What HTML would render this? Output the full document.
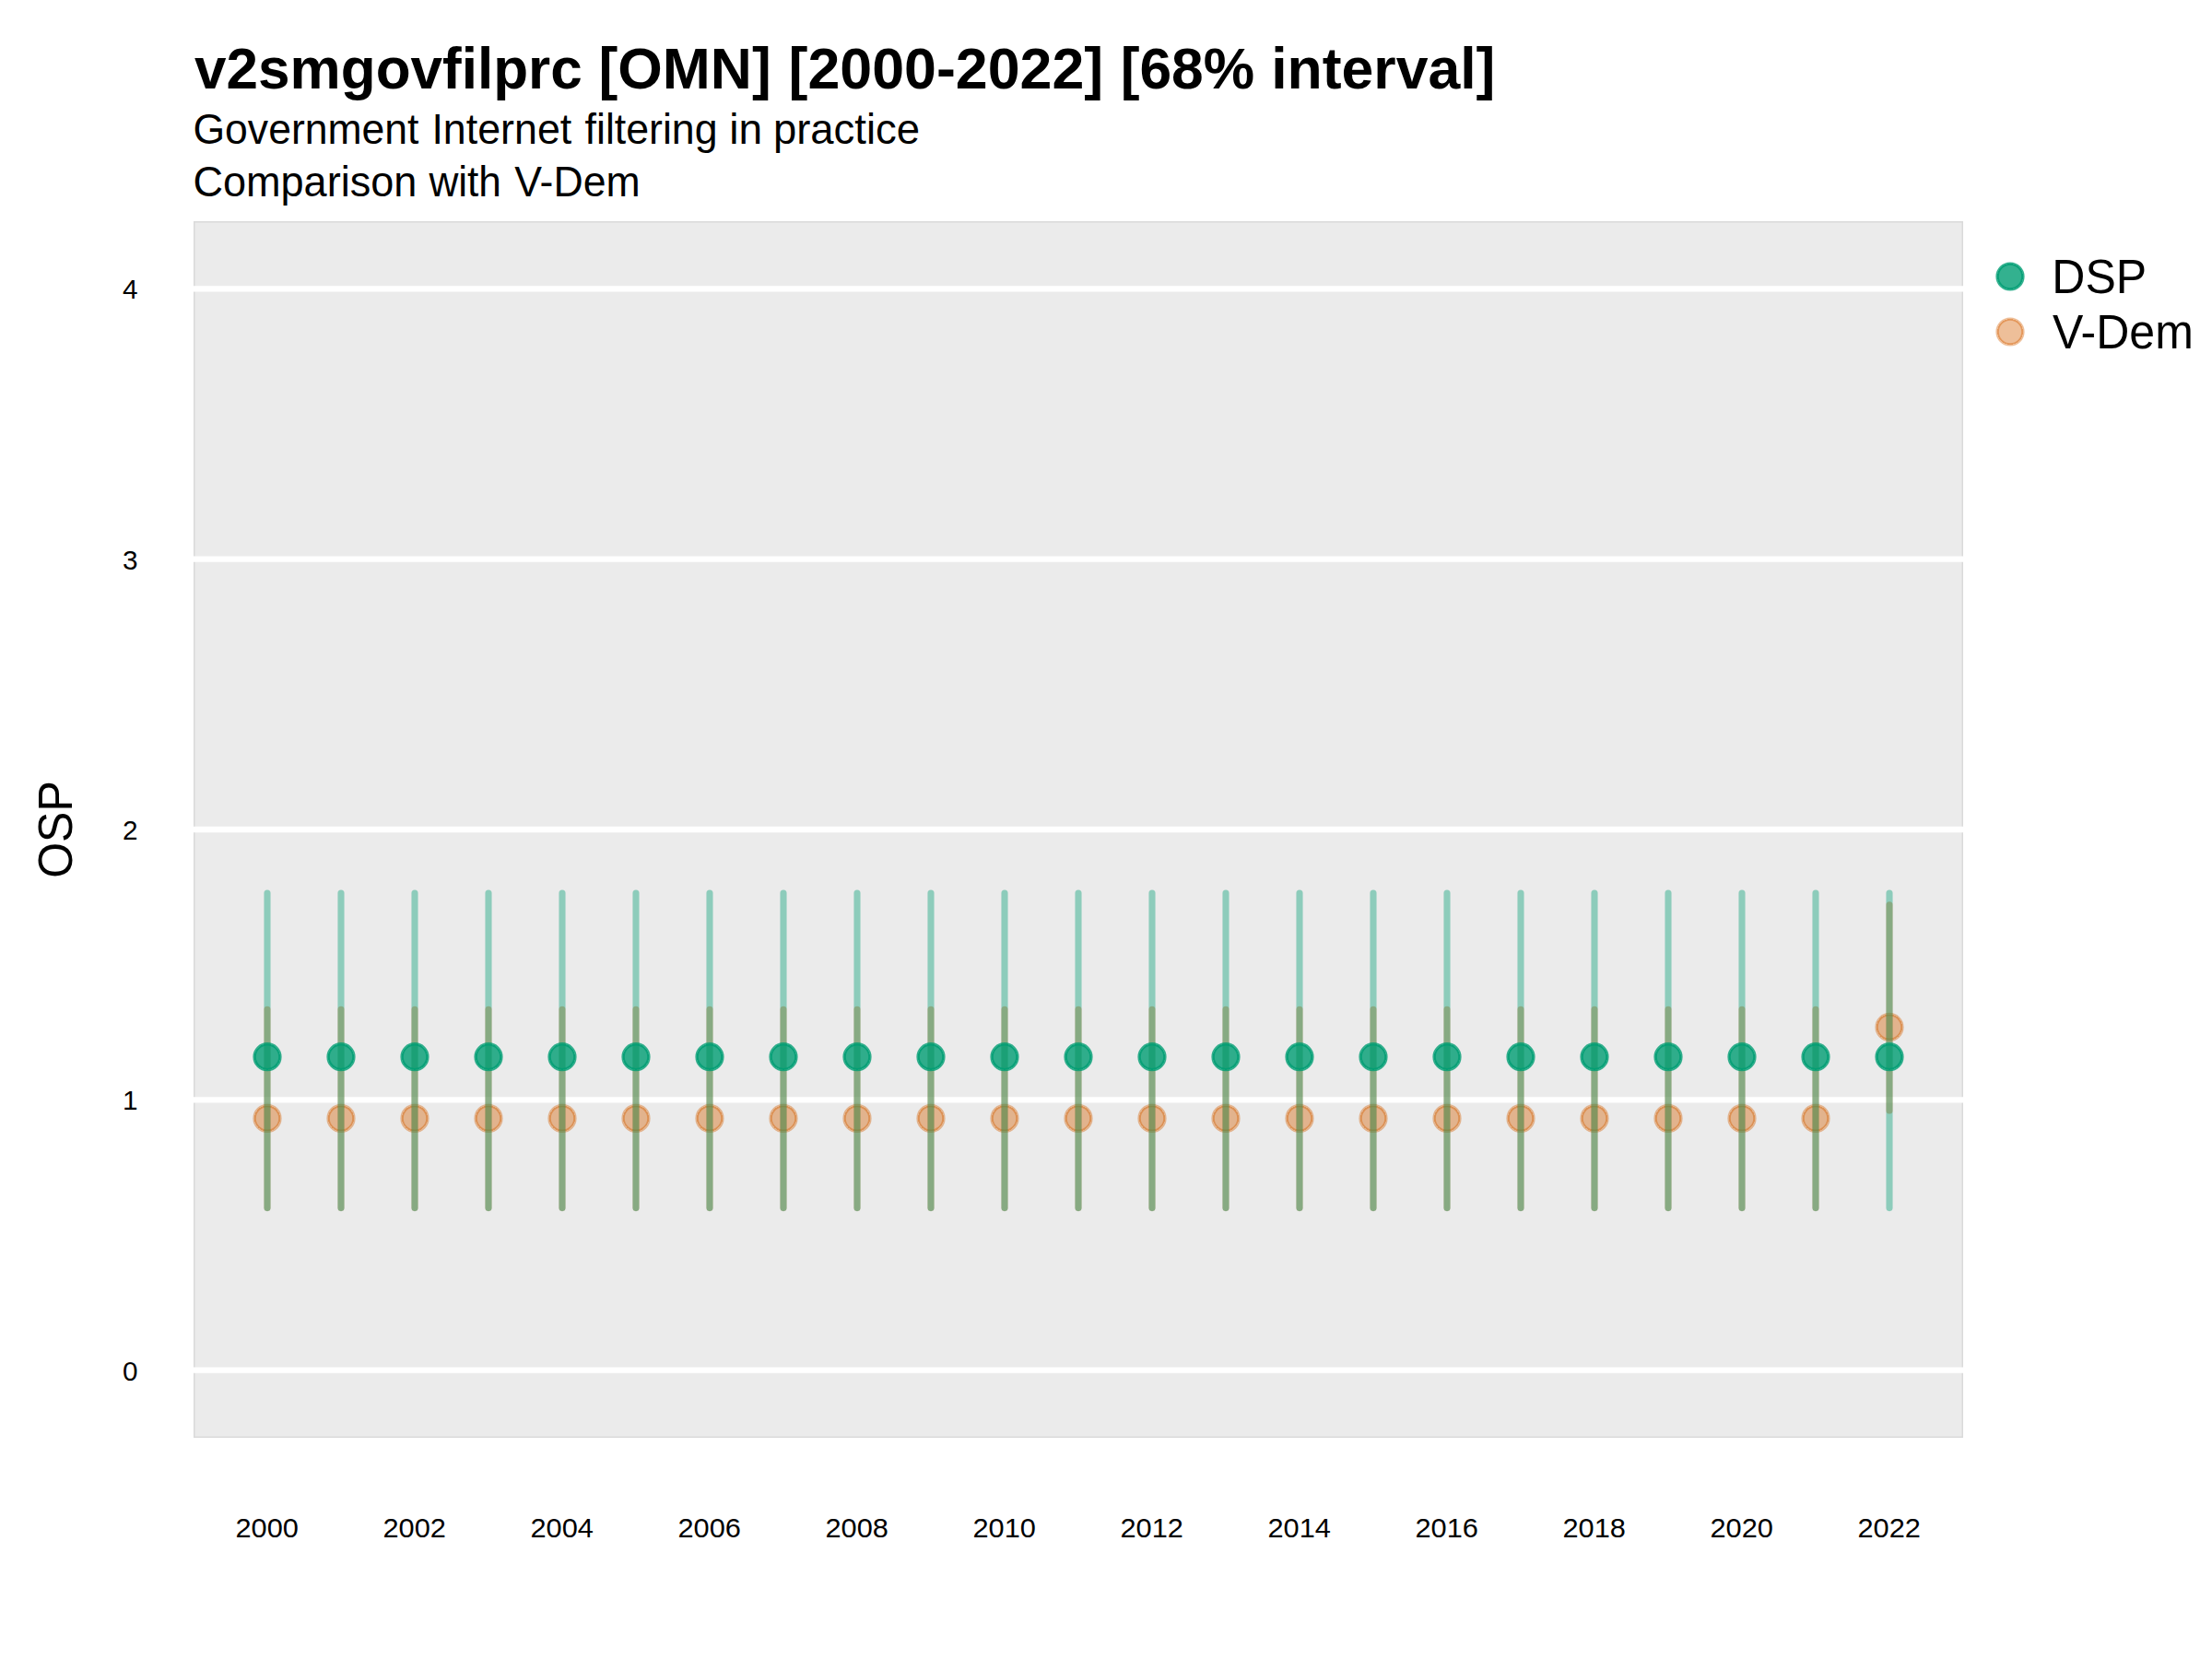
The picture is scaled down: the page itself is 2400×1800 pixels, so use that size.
<!DOCTYPE html>
<html lang="en"><head><meta charset="utf-8"><title>v2smgovfilprc [OMN] [2000-2022] [68% interval]</title>
<style>html,body{margin:0;padding:0;background:#fff;}body{width:2400px;height:1800px;overflow:hidden;}svg{display:block;}text{font-family:"Liberation Sans",Arial,Helvetica,sans-serif;fill:#000;}</style>
</head><body>
<svg width="2400" height="1800" viewBox="0 0 2400 1800">
<rect x="0" y="0" width="2400" height="1800" fill="#ffffff"/>
<text transform="translate(0,96.0) scale(1,1.015)" y="0" font-size="62.5" font-weight="bold"><tspan x="211.02" textLength="420.76" lengthAdjust="spacingAndGlyphs">v2smgovfilprc</tspan> <tspan x="649.43" textLength="187.27" lengthAdjust="spacingAndGlyphs">[OMN]</tspan> <tspan x="855.52" textLength="341.66" lengthAdjust="spacingAndGlyphs">[2000-2022]</tspan> <tspan x="1215.74" textLength="145.4" lengthAdjust="spacingAndGlyphs">[68%</tspan> <tspan x="1379.2" textLength="243.25" lengthAdjust="spacingAndGlyphs">interval]</tspan></text>
<text transform="translate(0,155.7) scale(1,1.0)" y="0" font-size="45.83"><tspan x="209.48" textLength="245.02" lengthAdjust="spacingAndGlyphs">Government</tspan> <tspan x="468.42" textLength="151.84" lengthAdjust="spacingAndGlyphs">Internet</tspan> <tspan x="634.59" textLength="143.95" lengthAdjust="spacingAndGlyphs">filtering</tspan> <tspan x="791.28" textLength="35.88" lengthAdjust="spacingAndGlyphs">in</tspan> <tspan x="838.92" textLength="159.14" lengthAdjust="spacingAndGlyphs">practice</tspan></text>
<text transform="translate(0,212.8) scale(1,1.0)" y="0" font-size="45.83"><tspan x="209.43" textLength="242.9" lengthAdjust="spacingAndGlyphs">Comparison</tspan> <tspan x="465.4" textLength="78.53" lengthAdjust="spacingAndGlyphs">with</tspan> <tspan x="558.35" textLength="136.26" lengthAdjust="spacingAndGlyphs">V-Dem</tspan></text>
<rect x="210" y="240" width="1920" height="1320" fill="#EBEBEB"/>
<rect x="210.75" y="240.75" width="1918.5" height="1318.5" fill="none" stroke="#DADADA" stroke-width="1.5"/>
<line x1="210" x2="2130" y1="1486.67" y2="1486.67" stroke="#ffffff" stroke-width="6.3"/>
<line x1="210" x2="2130" y1="1193.34" y2="1193.34" stroke="#ffffff" stroke-width="6.3"/>
<line x1="210" x2="2130" y1="900.00" y2="900.00" stroke="#ffffff" stroke-width="6.3"/>
<line x1="210" x2="2130" y1="606.67" y2="606.67" stroke="#ffffff" stroke-width="6.3"/>
<line x1="210" x2="2130" y1="313.34" y2="313.34" stroke="#ffffff" stroke-width="6.3"/>
<text transform="translate(149.6,1497.57) scale(0.96,0.975)" font-size="31" text-anchor="end">0</text>
<text transform="translate(149.6,1204.24) scale(0.96,0.975)" font-size="31" text-anchor="end">1</text>
<text transform="translate(149.6,910.90) scale(0.96,0.975)" font-size="31" text-anchor="end">2</text>
<text transform="translate(149.6,617.57) scale(0.96,0.975)" font-size="31" text-anchor="end">3</text>
<text transform="translate(149.6,324.24) scale(0.96,0.975)" font-size="31" text-anchor="end">4</text>
<text transform="translate(289.7,1667.9) scale(0.992,0.95)" font-size="31" text-anchor="middle">2000</text>
<text transform="translate(449.7,1667.9) scale(0.992,0.95)" font-size="31" text-anchor="middle">2002</text>
<text transform="translate(609.7,1667.9) scale(0.992,0.95)" font-size="31" text-anchor="middle">2004</text>
<text transform="translate(769.7,1667.9) scale(0.992,0.95)" font-size="31" text-anchor="middle">2006</text>
<text transform="translate(929.7,1667.9) scale(0.992,0.95)" font-size="31" text-anchor="middle">2008</text>
<text transform="translate(1089.7,1667.9) scale(0.992,0.95)" font-size="31" text-anchor="middle">2010</text>
<text transform="translate(1249.7,1667.9) scale(0.992,0.95)" font-size="31" text-anchor="middle">2012</text>
<text transform="translate(1409.7,1667.9) scale(0.992,0.95)" font-size="31" text-anchor="middle">2014</text>
<text transform="translate(1569.7,1667.9) scale(0.992,0.95)" font-size="31" text-anchor="middle">2016</text>
<text transform="translate(1729.7,1667.9) scale(0.992,0.95)" font-size="31" text-anchor="middle">2018</text>
<text transform="translate(1889.7,1667.9) scale(0.992,0.95)" font-size="31" text-anchor="middle">2020</text>
<text transform="translate(2049.7,1667.9) scale(0.992,0.95)" font-size="31" text-anchor="middle">2022</text>
<text transform="translate(78.1,900) rotate(-90) scale(1,1.045)" font-size="50" text-anchor="middle">OSP</text>
<g>
<circle cx="290.00" cy="1213.40" r="13.9" fill="#D55E00" fill-opacity="0.4" shape-rendering="crispEdges"/><circle cx="290.00" cy="1213.40" r="13.9" fill="none" stroke="#D55E00" stroke-opacity="0.4" stroke-width="3.4"/>
<circle cx="370.00" cy="1213.40" r="13.9" fill="#D55E00" fill-opacity="0.4" shape-rendering="crispEdges"/><circle cx="370.00" cy="1213.40" r="13.9" fill="none" stroke="#D55E00" stroke-opacity="0.4" stroke-width="3.4"/>
<circle cx="450.00" cy="1213.40" r="13.9" fill="#D55E00" fill-opacity="0.4" shape-rendering="crispEdges"/><circle cx="450.00" cy="1213.40" r="13.9" fill="none" stroke="#D55E00" stroke-opacity="0.4" stroke-width="3.4"/>
<circle cx="530.00" cy="1213.40" r="13.9" fill="#D55E00" fill-opacity="0.4" shape-rendering="crispEdges"/><circle cx="530.00" cy="1213.40" r="13.9" fill="none" stroke="#D55E00" stroke-opacity="0.4" stroke-width="3.4"/>
<circle cx="610.00" cy="1213.40" r="13.9" fill="#D55E00" fill-opacity="0.4" shape-rendering="crispEdges"/><circle cx="610.00" cy="1213.40" r="13.9" fill="none" stroke="#D55E00" stroke-opacity="0.4" stroke-width="3.4"/>
<circle cx="690.00" cy="1213.40" r="13.9" fill="#D55E00" fill-opacity="0.4" shape-rendering="crispEdges"/><circle cx="690.00" cy="1213.40" r="13.9" fill="none" stroke="#D55E00" stroke-opacity="0.4" stroke-width="3.4"/>
<circle cx="770.00" cy="1213.40" r="13.9" fill="#D55E00" fill-opacity="0.4" shape-rendering="crispEdges"/><circle cx="770.00" cy="1213.40" r="13.9" fill="none" stroke="#D55E00" stroke-opacity="0.4" stroke-width="3.4"/>
<circle cx="850.00" cy="1213.40" r="13.9" fill="#D55E00" fill-opacity="0.4" shape-rendering="crispEdges"/><circle cx="850.00" cy="1213.40" r="13.9" fill="none" stroke="#D55E00" stroke-opacity="0.4" stroke-width="3.4"/>
<circle cx="930.00" cy="1213.40" r="13.9" fill="#D55E00" fill-opacity="0.4" shape-rendering="crispEdges"/><circle cx="930.00" cy="1213.40" r="13.9" fill="none" stroke="#D55E00" stroke-opacity="0.4" stroke-width="3.4"/>
<circle cx="1010.00" cy="1213.40" r="13.9" fill="#D55E00" fill-opacity="0.4" shape-rendering="crispEdges"/><circle cx="1010.00" cy="1213.40" r="13.9" fill="none" stroke="#D55E00" stroke-opacity="0.4" stroke-width="3.4"/>
<circle cx="1090.00" cy="1213.40" r="13.9" fill="#D55E00" fill-opacity="0.4" shape-rendering="crispEdges"/><circle cx="1090.00" cy="1213.40" r="13.9" fill="none" stroke="#D55E00" stroke-opacity="0.4" stroke-width="3.4"/>
<circle cx="1170.00" cy="1213.40" r="13.9" fill="#D55E00" fill-opacity="0.4" shape-rendering="crispEdges"/><circle cx="1170.00" cy="1213.40" r="13.9" fill="none" stroke="#D55E00" stroke-opacity="0.4" stroke-width="3.4"/>
<circle cx="1250.00" cy="1213.40" r="13.9" fill="#D55E00" fill-opacity="0.4" shape-rendering="crispEdges"/><circle cx="1250.00" cy="1213.40" r="13.9" fill="none" stroke="#D55E00" stroke-opacity="0.4" stroke-width="3.4"/>
<circle cx="1330.00" cy="1213.40" r="13.9" fill="#D55E00" fill-opacity="0.4" shape-rendering="crispEdges"/><circle cx="1330.00" cy="1213.40" r="13.9" fill="none" stroke="#D55E00" stroke-opacity="0.4" stroke-width="3.4"/>
<circle cx="1410.00" cy="1213.40" r="13.9" fill="#D55E00" fill-opacity="0.4" shape-rendering="crispEdges"/><circle cx="1410.00" cy="1213.40" r="13.9" fill="none" stroke="#D55E00" stroke-opacity="0.4" stroke-width="3.4"/>
<circle cx="1490.00" cy="1213.40" r="13.9" fill="#D55E00" fill-opacity="0.4" shape-rendering="crispEdges"/><circle cx="1490.00" cy="1213.40" r="13.9" fill="none" stroke="#D55E00" stroke-opacity="0.4" stroke-width="3.4"/>
<circle cx="1570.00" cy="1213.40" r="13.9" fill="#D55E00" fill-opacity="0.4" shape-rendering="crispEdges"/><circle cx="1570.00" cy="1213.40" r="13.9" fill="none" stroke="#D55E00" stroke-opacity="0.4" stroke-width="3.4"/>
<circle cx="1650.00" cy="1213.40" r="13.9" fill="#D55E00" fill-opacity="0.4" shape-rendering="crispEdges"/><circle cx="1650.00" cy="1213.40" r="13.9" fill="none" stroke="#D55E00" stroke-opacity="0.4" stroke-width="3.4"/>
<circle cx="1730.00" cy="1213.40" r="13.9" fill="#D55E00" fill-opacity="0.4" shape-rendering="crispEdges"/><circle cx="1730.00" cy="1213.40" r="13.9" fill="none" stroke="#D55E00" stroke-opacity="0.4" stroke-width="3.4"/>
<circle cx="1810.00" cy="1213.40" r="13.9" fill="#D55E00" fill-opacity="0.4" shape-rendering="crispEdges"/><circle cx="1810.00" cy="1213.40" r="13.9" fill="none" stroke="#D55E00" stroke-opacity="0.4" stroke-width="3.4"/>
<circle cx="1890.00" cy="1213.40" r="13.9" fill="#D55E00" fill-opacity="0.4" shape-rendering="crispEdges"/><circle cx="1890.00" cy="1213.40" r="13.9" fill="none" stroke="#D55E00" stroke-opacity="0.4" stroke-width="3.4"/>
<circle cx="1970.00" cy="1213.40" r="13.9" fill="#D55E00" fill-opacity="0.4" shape-rendering="crispEdges"/><circle cx="1970.00" cy="1213.40" r="13.9" fill="none" stroke="#D55E00" stroke-opacity="0.4" stroke-width="3.4"/>
<circle cx="2050.00" cy="1114.43" r="13.9" fill="#D55E00" fill-opacity="0.4" shape-rendering="crispEdges"/><circle cx="2050.00" cy="1114.43" r="13.9" fill="none" stroke="#D55E00" stroke-opacity="0.4" stroke-width="3.4"/>
</g><g>
<line x1="290.00" x2="290.00" y1="1095.33" y2="1310.61" stroke="#D55E00" stroke-opacity="0.4" stroke-width="7.1" stroke-linecap="round"/>
<line x1="370.00" x2="370.00" y1="1095.33" y2="1310.61" stroke="#D55E00" stroke-opacity="0.4" stroke-width="7.1" stroke-linecap="round"/>
<line x1="450.00" x2="450.00" y1="1095.33" y2="1310.61" stroke="#D55E00" stroke-opacity="0.4" stroke-width="7.1" stroke-linecap="round"/>
<line x1="530.00" x2="530.00" y1="1095.33" y2="1310.61" stroke="#D55E00" stroke-opacity="0.4" stroke-width="7.1" stroke-linecap="round"/>
<line x1="610.00" x2="610.00" y1="1095.33" y2="1310.61" stroke="#D55E00" stroke-opacity="0.4" stroke-width="7.1" stroke-linecap="round"/>
<line x1="690.00" x2="690.00" y1="1095.33" y2="1310.61" stroke="#D55E00" stroke-opacity="0.4" stroke-width="7.1" stroke-linecap="round"/>
<line x1="770.00" x2="770.00" y1="1095.33" y2="1310.61" stroke="#D55E00" stroke-opacity="0.4" stroke-width="7.1" stroke-linecap="round"/>
<line x1="850.00" x2="850.00" y1="1095.33" y2="1310.61" stroke="#D55E00" stroke-opacity="0.4" stroke-width="7.1" stroke-linecap="round"/>
<line x1="930.00" x2="930.00" y1="1095.33" y2="1310.61" stroke="#D55E00" stroke-opacity="0.4" stroke-width="7.1" stroke-linecap="round"/>
<line x1="1010.00" x2="1010.00" y1="1095.33" y2="1310.61" stroke="#D55E00" stroke-opacity="0.4" stroke-width="7.1" stroke-linecap="round"/>
<line x1="1090.00" x2="1090.00" y1="1095.33" y2="1310.61" stroke="#D55E00" stroke-opacity="0.4" stroke-width="7.1" stroke-linecap="round"/>
<line x1="1170.00" x2="1170.00" y1="1095.33" y2="1310.61" stroke="#D55E00" stroke-opacity="0.4" stroke-width="7.1" stroke-linecap="round"/>
<line x1="1250.00" x2="1250.00" y1="1095.33" y2="1310.61" stroke="#D55E00" stroke-opacity="0.4" stroke-width="7.1" stroke-linecap="round"/>
<line x1="1330.00" x2="1330.00" y1="1095.33" y2="1310.61" stroke="#D55E00" stroke-opacity="0.4" stroke-width="7.1" stroke-linecap="round"/>
<line x1="1410.00" x2="1410.00" y1="1095.33" y2="1310.61" stroke="#D55E00" stroke-opacity="0.4" stroke-width="7.1" stroke-linecap="round"/>
<line x1="1490.00" x2="1490.00" y1="1095.33" y2="1310.61" stroke="#D55E00" stroke-opacity="0.4" stroke-width="7.1" stroke-linecap="round"/>
<line x1="1570.00" x2="1570.00" y1="1095.33" y2="1310.61" stroke="#D55E00" stroke-opacity="0.4" stroke-width="7.1" stroke-linecap="round"/>
<line x1="1650.00" x2="1650.00" y1="1095.33" y2="1310.61" stroke="#D55E00" stroke-opacity="0.4" stroke-width="7.1" stroke-linecap="round"/>
<line x1="1730.00" x2="1730.00" y1="1095.33" y2="1310.61" stroke="#D55E00" stroke-opacity="0.4" stroke-width="7.1" stroke-linecap="round"/>
<line x1="1810.00" x2="1810.00" y1="1095.33" y2="1310.61" stroke="#D55E00" stroke-opacity="0.4" stroke-width="7.1" stroke-linecap="round"/>
<line x1="1890.00" x2="1890.00" y1="1095.33" y2="1310.61" stroke="#D55E00" stroke-opacity="0.4" stroke-width="7.1" stroke-linecap="round"/>
<line x1="1970.00" x2="1970.00" y1="1095.33" y2="1310.61" stroke="#D55E00" stroke-opacity="0.4" stroke-width="7.1" stroke-linecap="round"/>
<line x1="2050.00" x2="2050.00" y1="981.84" y2="1205.07" stroke="#D55E00" stroke-opacity="0.4" stroke-width="7.1" stroke-linecap="round"/>
</g><g>
<line x1="290.00" x2="290.00" y1="968.94" y2="1310.61" stroke="#009E73" stroke-opacity="0.4" stroke-width="7.1" stroke-linecap="round"/>
<line x1="370.00" x2="370.00" y1="968.94" y2="1310.61" stroke="#009E73" stroke-opacity="0.4" stroke-width="7.1" stroke-linecap="round"/>
<line x1="450.00" x2="450.00" y1="968.94" y2="1310.61" stroke="#009E73" stroke-opacity="0.4" stroke-width="7.1" stroke-linecap="round"/>
<line x1="530.00" x2="530.00" y1="968.94" y2="1310.61" stroke="#009E73" stroke-opacity="0.4" stroke-width="7.1" stroke-linecap="round"/>
<line x1="610.00" x2="610.00" y1="968.94" y2="1310.61" stroke="#009E73" stroke-opacity="0.4" stroke-width="7.1" stroke-linecap="round"/>
<line x1="690.00" x2="690.00" y1="968.94" y2="1310.61" stroke="#009E73" stroke-opacity="0.4" stroke-width="7.1" stroke-linecap="round"/>
<line x1="770.00" x2="770.00" y1="968.94" y2="1310.61" stroke="#009E73" stroke-opacity="0.4" stroke-width="7.1" stroke-linecap="round"/>
<line x1="850.00" x2="850.00" y1="968.94" y2="1310.61" stroke="#009E73" stroke-opacity="0.4" stroke-width="7.1" stroke-linecap="round"/>
<line x1="930.00" x2="930.00" y1="968.94" y2="1310.61" stroke="#009E73" stroke-opacity="0.4" stroke-width="7.1" stroke-linecap="round"/>
<line x1="1010.00" x2="1010.00" y1="968.94" y2="1310.61" stroke="#009E73" stroke-opacity="0.4" stroke-width="7.1" stroke-linecap="round"/>
<line x1="1090.00" x2="1090.00" y1="968.94" y2="1310.61" stroke="#009E73" stroke-opacity="0.4" stroke-width="7.1" stroke-linecap="round"/>
<line x1="1170.00" x2="1170.00" y1="968.94" y2="1310.61" stroke="#009E73" stroke-opacity="0.4" stroke-width="7.1" stroke-linecap="round"/>
<line x1="1250.00" x2="1250.00" y1="968.94" y2="1310.61" stroke="#009E73" stroke-opacity="0.4" stroke-width="7.1" stroke-linecap="round"/>
<line x1="1330.00" x2="1330.00" y1="968.94" y2="1310.61" stroke="#009E73" stroke-opacity="0.4" stroke-width="7.1" stroke-linecap="round"/>
<line x1="1410.00" x2="1410.00" y1="968.94" y2="1310.61" stroke="#009E73" stroke-opacity="0.4" stroke-width="7.1" stroke-linecap="round"/>
<line x1="1490.00" x2="1490.00" y1="968.94" y2="1310.61" stroke="#009E73" stroke-opacity="0.4" stroke-width="7.1" stroke-linecap="round"/>
<line x1="1570.00" x2="1570.00" y1="968.94" y2="1310.61" stroke="#009E73" stroke-opacity="0.4" stroke-width="7.1" stroke-linecap="round"/>
<line x1="1650.00" x2="1650.00" y1="968.94" y2="1310.61" stroke="#009E73" stroke-opacity="0.4" stroke-width="7.1" stroke-linecap="round"/>
<line x1="1730.00" x2="1730.00" y1="968.94" y2="1310.61" stroke="#009E73" stroke-opacity="0.4" stroke-width="7.1" stroke-linecap="round"/>
<line x1="1810.00" x2="1810.00" y1="968.94" y2="1310.61" stroke="#009E73" stroke-opacity="0.4" stroke-width="7.1" stroke-linecap="round"/>
<line x1="1890.00" x2="1890.00" y1="968.94" y2="1310.61" stroke="#009E73" stroke-opacity="0.4" stroke-width="7.1" stroke-linecap="round"/>
<line x1="1970.00" x2="1970.00" y1="968.94" y2="1310.61" stroke="#009E73" stroke-opacity="0.4" stroke-width="7.1" stroke-linecap="round"/>
<line x1="2050.00" x2="2050.00" y1="968.94" y2="1310.61" stroke="#009E73" stroke-opacity="0.4" stroke-width="7.1" stroke-linecap="round"/>
</g><g>
<circle cx="290.00" cy="1146.70" r="13.9" fill="#009E73" fill-opacity="0.8" shape-rendering="crispEdges"/><circle cx="290.00" cy="1146.70" r="13.9" fill="none" stroke="#009E73" stroke-opacity="0.8" stroke-width="3.4"/>
<circle cx="370.00" cy="1146.70" r="13.9" fill="#009E73" fill-opacity="0.8" shape-rendering="crispEdges"/><circle cx="370.00" cy="1146.70" r="13.9" fill="none" stroke="#009E73" stroke-opacity="0.8" stroke-width="3.4"/>
<circle cx="450.00" cy="1146.70" r="13.9" fill="#009E73" fill-opacity="0.8" shape-rendering="crispEdges"/><circle cx="450.00" cy="1146.70" r="13.9" fill="none" stroke="#009E73" stroke-opacity="0.8" stroke-width="3.4"/>
<circle cx="530.00" cy="1146.70" r="13.9" fill="#009E73" fill-opacity="0.8" shape-rendering="crispEdges"/><circle cx="530.00" cy="1146.70" r="13.9" fill="none" stroke="#009E73" stroke-opacity="0.8" stroke-width="3.4"/>
<circle cx="610.00" cy="1146.70" r="13.9" fill="#009E73" fill-opacity="0.8" shape-rendering="crispEdges"/><circle cx="610.00" cy="1146.70" r="13.9" fill="none" stroke="#009E73" stroke-opacity="0.8" stroke-width="3.4"/>
<circle cx="690.00" cy="1146.70" r="13.9" fill="#009E73" fill-opacity="0.8" shape-rendering="crispEdges"/><circle cx="690.00" cy="1146.70" r="13.9" fill="none" stroke="#009E73" stroke-opacity="0.8" stroke-width="3.4"/>
<circle cx="770.00" cy="1146.70" r="13.9" fill="#009E73" fill-opacity="0.8" shape-rendering="crispEdges"/><circle cx="770.00" cy="1146.70" r="13.9" fill="none" stroke="#009E73" stroke-opacity="0.8" stroke-width="3.4"/>
<circle cx="850.00" cy="1146.70" r="13.9" fill="#009E73" fill-opacity="0.8" shape-rendering="crispEdges"/><circle cx="850.00" cy="1146.70" r="13.9" fill="none" stroke="#009E73" stroke-opacity="0.8" stroke-width="3.4"/>
<circle cx="930.00" cy="1146.70" r="13.9" fill="#009E73" fill-opacity="0.8" shape-rendering="crispEdges"/><circle cx="930.00" cy="1146.70" r="13.9" fill="none" stroke="#009E73" stroke-opacity="0.8" stroke-width="3.4"/>
<circle cx="1010.00" cy="1146.70" r="13.9" fill="#009E73" fill-opacity="0.8" shape-rendering="crispEdges"/><circle cx="1010.00" cy="1146.70" r="13.9" fill="none" stroke="#009E73" stroke-opacity="0.8" stroke-width="3.4"/>
<circle cx="1090.00" cy="1146.70" r="13.9" fill="#009E73" fill-opacity="0.8" shape-rendering="crispEdges"/><circle cx="1090.00" cy="1146.70" r="13.9" fill="none" stroke="#009E73" stroke-opacity="0.8" stroke-width="3.4"/>
<circle cx="1170.00" cy="1146.70" r="13.9" fill="#009E73" fill-opacity="0.8" shape-rendering="crispEdges"/><circle cx="1170.00" cy="1146.70" r="13.9" fill="none" stroke="#009E73" stroke-opacity="0.8" stroke-width="3.4"/>
<circle cx="1250.00" cy="1146.70" r="13.9" fill="#009E73" fill-opacity="0.8" shape-rendering="crispEdges"/><circle cx="1250.00" cy="1146.70" r="13.9" fill="none" stroke="#009E73" stroke-opacity="0.8" stroke-width="3.4"/>
<circle cx="1330.00" cy="1146.70" r="13.9" fill="#009E73" fill-opacity="0.8" shape-rendering="crispEdges"/><circle cx="1330.00" cy="1146.70" r="13.9" fill="none" stroke="#009E73" stroke-opacity="0.8" stroke-width="3.4"/>
<circle cx="1410.00" cy="1146.70" r="13.9" fill="#009E73" fill-opacity="0.8" shape-rendering="crispEdges"/><circle cx="1410.00" cy="1146.70" r="13.9" fill="none" stroke="#009E73" stroke-opacity="0.8" stroke-width="3.4"/>
<circle cx="1490.00" cy="1146.70" r="13.9" fill="#009E73" fill-opacity="0.8" shape-rendering="crispEdges"/><circle cx="1490.00" cy="1146.70" r="13.9" fill="none" stroke="#009E73" stroke-opacity="0.8" stroke-width="3.4"/>
<circle cx="1570.00" cy="1146.70" r="13.9" fill="#009E73" fill-opacity="0.8" shape-rendering="crispEdges"/><circle cx="1570.00" cy="1146.70" r="13.9" fill="none" stroke="#009E73" stroke-opacity="0.8" stroke-width="3.4"/>
<circle cx="1650.00" cy="1146.70" r="13.9" fill="#009E73" fill-opacity="0.8" shape-rendering="crispEdges"/><circle cx="1650.00" cy="1146.70" r="13.9" fill="none" stroke="#009E73" stroke-opacity="0.8" stroke-width="3.4"/>
<circle cx="1730.00" cy="1146.70" r="13.9" fill="#009E73" fill-opacity="0.8" shape-rendering="crispEdges"/><circle cx="1730.00" cy="1146.70" r="13.9" fill="none" stroke="#009E73" stroke-opacity="0.8" stroke-width="3.4"/>
<circle cx="1810.00" cy="1146.70" r="13.9" fill="#009E73" fill-opacity="0.8" shape-rendering="crispEdges"/><circle cx="1810.00" cy="1146.70" r="13.9" fill="none" stroke="#009E73" stroke-opacity="0.8" stroke-width="3.4"/>
<circle cx="1890.00" cy="1146.70" r="13.9" fill="#009E73" fill-opacity="0.8" shape-rendering="crispEdges"/><circle cx="1890.00" cy="1146.70" r="13.9" fill="none" stroke="#009E73" stroke-opacity="0.8" stroke-width="3.4"/>
<circle cx="1970.00" cy="1146.70" r="13.9" fill="#009E73" fill-opacity="0.8" shape-rendering="crispEdges"/><circle cx="1970.00" cy="1146.70" r="13.9" fill="none" stroke="#009E73" stroke-opacity="0.8" stroke-width="3.4"/>
<circle cx="2050.00" cy="1146.70" r="13.9" fill="#009E73" fill-opacity="0.8" shape-rendering="crispEdges"/><circle cx="2050.00" cy="1146.70" r="13.9" fill="none" stroke="#009E73" stroke-opacity="0.8" stroke-width="3.4"/>
</g>
<circle cx="2181.00" cy="300.00" r="13.9" fill="#009E73" fill-opacity="0.8" shape-rendering="crispEdges"/><circle cx="2181.00" cy="300.00" r="13.9" fill="none" stroke="#009E73" stroke-opacity="0.8" stroke-width="3.4"/>
<circle cx="2181.00" cy="360.00" r="13.9" fill="#D55E00" fill-opacity="0.4" shape-rendering="crispEdges"/><circle cx="2181.00" cy="360.00" r="13.9" fill="none" stroke="#D55E00" stroke-opacity="0.4" stroke-width="3.4"/>
<text transform="translate(2226.3,317.7) scale(1,1.035)" font-size="50">DSP</text>
<text transform="translate(2227.0,377.7) scale(1,1.035)" font-size="50">V-Dem</text>
</svg></body></html>
